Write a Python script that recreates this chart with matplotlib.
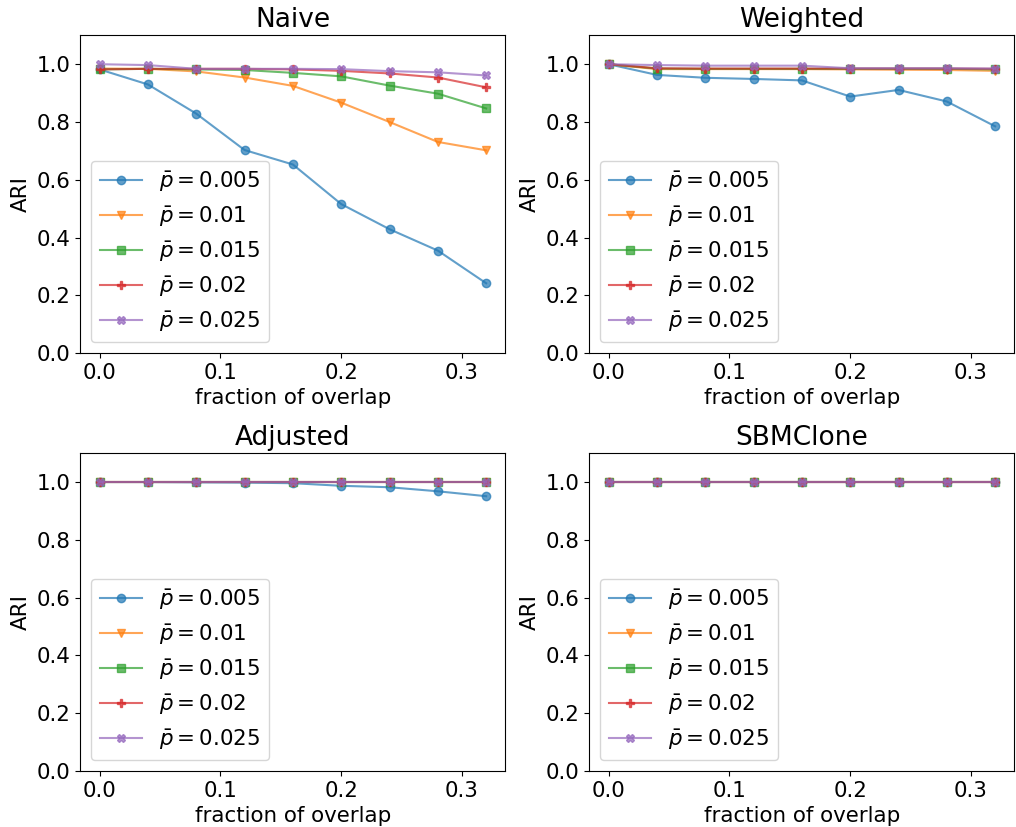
import matplotlib
matplotlib.use('Agg')
import matplotlib.pyplot as plt
import numpy as np


# ARI vs fraction of overlap, one panel per method

overlap = [0.0, 0.04, 0.08, 0.12, 0.16, 0.20, 0.24, 0.28, 0.32]
p_labels = ['0.005', '0.01', '0.015', '0.02', '0.025']

naive = [
    [0.982, 0.930, 0.829, 0.703, 0.653, 0.516, 0.429, 0.355, 0.242],
    [0.985, 0.984, 0.975, 0.954, 0.925, 0.867, 0.800, 0.731, 0.702],
    [0.982, 0.984, 0.982, 0.980, 0.970, 0.958, 0.926, 0.898, 0.847],
    [0.982, 0.984, 0.984, 0.984, 0.982, 0.977, 0.968, 0.954, 0.920],
    [1.000, 0.997, 0.984, 0.984, 0.984, 0.983, 0.976, 0.972, 0.961],
]

weighted = [
    [1.000, 0.963, 0.953, 0.949, 0.944, 0.888, 0.911, 0.871, 0.785],
    [1.000, 0.983, 0.983, 0.983, 0.983, 0.982, 0.981, 0.980, 0.977],
    [1.000, 0.985, 0.984, 0.984, 0.984, 0.984, 0.984, 0.984, 0.982],
    [1.000, 0.986, 0.985, 0.985, 0.985, 0.985, 0.985, 0.985, 0.984],
    [1.000, 0.997, 0.995, 0.995, 0.995, 0.986, 0.986, 0.986, 0.985],
]

adjusted = [
    [1.000, 1.000, 0.999, 0.998, 0.996, 0.987, 0.982, 0.968, 0.951],
    [1.000, 1.000, 1.000, 1.000, 1.000, 1.000, 1.000, 1.000, 1.000],
    [1.000, 1.000, 1.000, 1.000, 1.000, 1.000, 1.000, 1.000, 1.000],
    [1.000, 1.000, 1.000, 1.000, 1.000, 1.000, 1.000, 1.000, 1.000],
    [1.000, 1.000, 1.000, 1.000, 1.000, 1.000, 1.000, 1.000, 1.000],
]

sbmclone = [
    [1.000, 1.000, 1.000, 1.000, 1.000, 1.000, 1.000, 1.000, 1.000],
    [1.000, 1.000, 1.000, 1.000, 1.000, 1.000, 1.000, 1.000, 1.000],
    [1.000, 1.000, 1.000, 1.000, 1.000, 1.000, 1.000, 1.000, 1.000],
    [1.000, 1.000, 1.000, 1.000, 1.000, 1.000, 1.000, 1.000, 1.000],
    [1.000, 1.000, 1.000, 1.000, 1.000, 1.000, 1.000, 1.000, 1.000],
]

titles = ['Naive', 'Weighted', 'Adjusted', 'SBMClone']
panels = [naive, weighted, adjusted, sbmclone]
markers = ['o', 'v', 's', 'P', 'X']

plt.rcParams.update({'font.size': 15.4})

fig, axes = plt.subplots(2, 2, figsize=(10.16, 8.27), dpi=100)

for ax, title, data in zip(axes.flat, titles, panels):
    for i in range(len(p_labels)):
        ax.plot(overlap, data[i], linestyle='-', marker=markers[i], alpha=0.7,
                label=r'$\bar{p} = %s$' % p_labels[i])
    ax.set_title(title, fontsize=19)
    ax.set_ylim([0, 1.1])
    ax.set_xlabel('fraction of overlap')
    ax.set_ylabel('ARI')
    ax.legend(loc='lower left')

plt.subplots_adjust(left=0.079, right=0.9985, bottom=0.0677, top=0.9573,
                    wspace=0.197, hspace=0.3145)
plt.savefig('out.png', dpi=100)
plt.close()
